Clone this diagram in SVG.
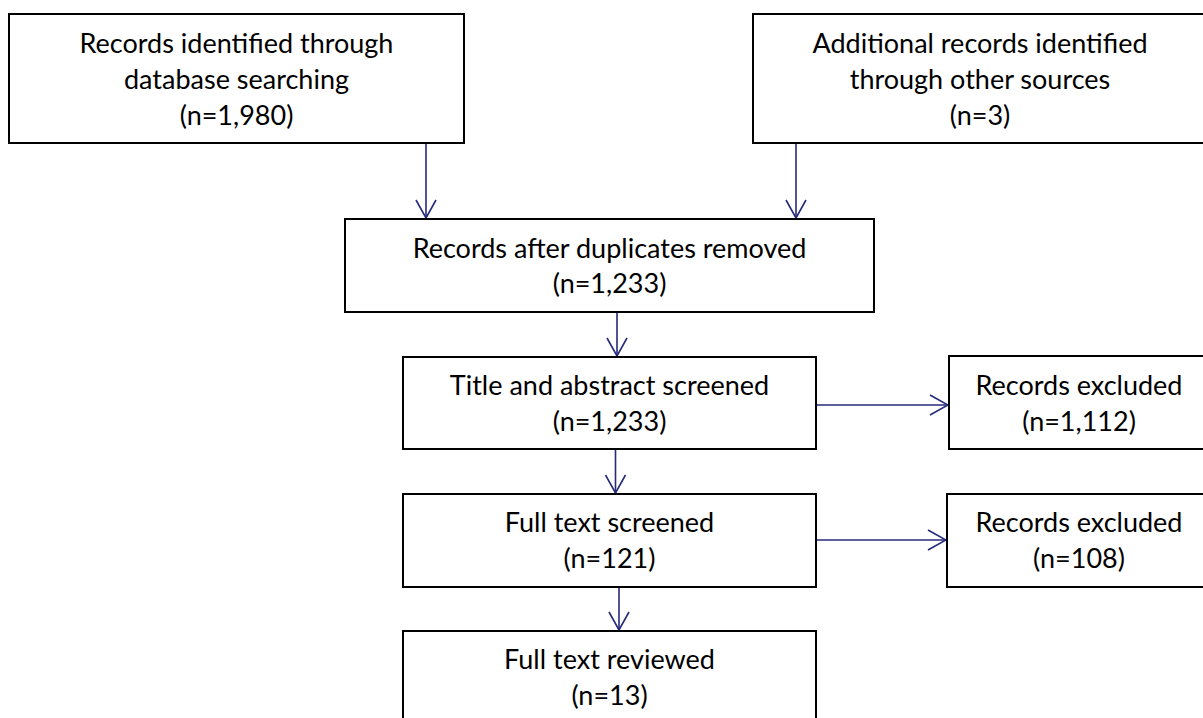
<svg xmlns="http://www.w3.org/2000/svg" width="1203" height="718" viewBox="0 0 1203 718">
<defs>
<style>
.box{fill:#fff;stroke:#000;stroke-width:2}
.t{font-family:Lato,"Open Sans","Liberation Sans",sans-serif;font-size:27px;fill:#000;text-anchor:middle}
.c{fill:none;stroke:#262A7A;stroke-width:1.6}
</style>
<marker id="ah" viewBox="0 0 20 22" markerWidth="20" markerHeight="22" refX="19" refY="11" orient="auto" markerUnits="userSpaceOnUse">
<path d="M1,1 L19,11 L1,21" fill="none" stroke="#262A7A" stroke-width="1.6"/>
</marker>
</defs>
<rect width="1203" height="718" fill="#fff"/>
<g id="connectors">
<line class="c" x1="426" y1="143" x2="426" y2="218" marker-end="url(#ah)"/>
<line class="c" x1="796" y1="143" x2="796" y2="218" marker-end="url(#ah)"/>
<line class="c" x1="617" y1="312" x2="617" y2="356" marker-end="url(#ah)"/>
<line class="c" x1="615.5" y1="449" x2="615.5" y2="493" marker-end="url(#ah)"/>
<line class="c" x1="619" y1="587" x2="619" y2="630" marker-end="url(#ah)"/>
<line class="c" x1="816" y1="405" x2="948" y2="405" marker-end="url(#ah)"/>
<line class="c" x1="816" y1="540" x2="946" y2="540" marker-end="url(#ah)"/>
</g>
<g id="n1">
<rect class="box" x="9" y="14" width="455" height="129"/>
<text class="t" x="236.5" y="53">Records identified through</text>
<text class="t" x="236.5" y="89">database searching</text>
<text class="t" x="236.5" y="125">(n=1,980)</text>
</g>
<g id="n2">
<rect class="box" x="753" y="14" width="460" height="129"/>
<text class="t" x="980" y="53">Additional records identified</text>
<text class="t" x="980" y="89">through other sources</text>
<text class="t" x="980" y="125">(n=3)</text>
</g>
<g id="n3">
<rect class="box" x="345" y="219" width="529" height="93"/>
<text class="t" x="609.5" y="258">Records after duplicates removed</text>
<text class="t" x="609.5" y="293">(n=1,233)</text>
</g>
<g id="n4">
<rect class="box" x="403" y="357" width="413" height="92"/>
<text class="t" x="609.5" y="395">Title and abstract screened</text>
<text class="t" x="609.5" y="431">(n=1,233)</text>
</g>
<g id="n5">
<rect class="box" x="949" y="356" width="264" height="93"/>
<text class="t" x="1079" y="395">Records excluded</text>
<text class="t" x="1079" y="431">(n=1,112)</text>
</g>
<g id="n6">
<rect class="box" x="403" y="494" width="413" height="93"/>
<text class="t" x="609.5" y="532">Full text screened</text>
<text class="t" x="609.5" y="568">(n=121)</text>
</g>
<g id="n7">
<rect class="box" x="947" y="494" width="266" height="93"/>
<text class="t" x="1079" y="532">Records excluded</text>
<text class="t" x="1079" y="568">(n=108)</text>
</g>
<g id="n8">
<rect class="box" x="403" y="631" width="413" height="95"/>
<text class="t" x="609.5" y="669">Full text reviewed</text>
<text class="t" x="609.5" y="705">(n=13)</text>
</g>
</svg>
